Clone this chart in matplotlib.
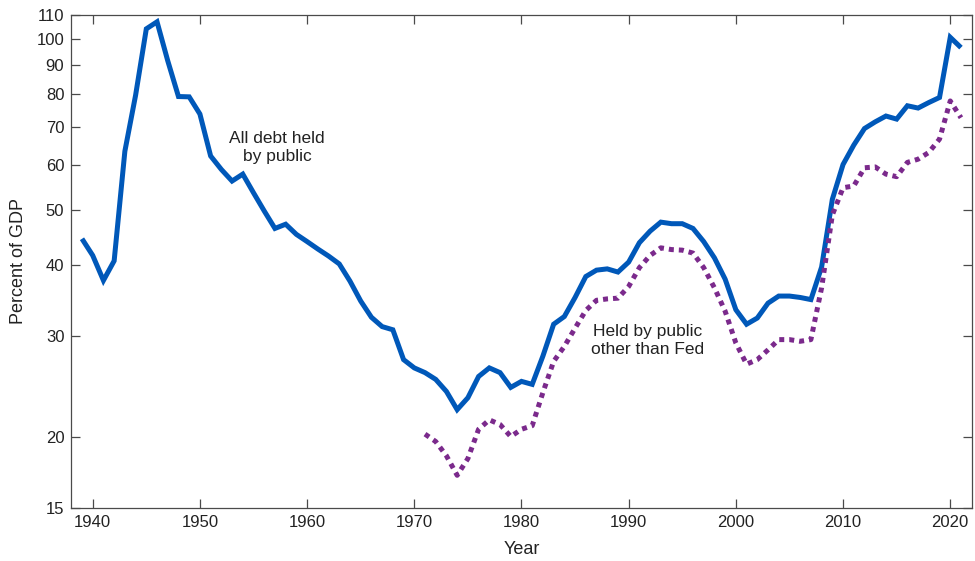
import numpy as np
import matplotlib
matplotlib.use("Agg")
import matplotlib.pyplot as plt

plt.rcParams['font.family'] = ['Liberation Sans', 'DejaVu Sans']

# debt held by the public, percent of GDP
years_all = list(range(1939, 2022))
debt_all = [
    44.5, 41.6, 37.6, 40.7, 63.4, 79.5, 104.0, 107.0, 91.4, 79.1,   # 1939-1948
    79.0, 73.7, 62.2, 58.9, 56.2, 57.8, 53.6, 49.8, 46.4, 47.2,     # 1949-1958
    45.3, 44.0, 42.7, 41.5, 40.2, 37.5, 34.6, 32.4, 31.2, 30.8,     # 1959-1968
    27.3, 26.4, 25.9, 25.2, 24.0, 22.3, 23.4, 25.5, 26.4, 25.9,     # 1969-1978
    24.4, 25.0, 24.7, 27.7, 31.5, 32.5, 35.1, 38.2, 39.2, 39.4,     # 1979-1988
    38.9, 40.5, 43.8, 45.9, 47.6, 47.3, 47.3, 46.4, 44.0, 41.2,     # 1989-1998
    37.8, 33.4, 31.5, 32.3, 34.3, 35.3, 35.3, 35.1, 34.8, 39.7,     # 1999-2008
    52.2, 60.1, 65.0, 69.5, 71.4, 73.1, 72.2, 76.2, 75.5, 77.2,     # 2009-2018
    78.8, 100.5, 96.4,                                              # 2019-2021
]

# held by the public excluding Federal Reserve holdings
years_ex_fed = list(range(1971, 2022))
debt_ex_fed = [
    20.2, 19.6, 18.5, 17.1, 18.3, 20.6, 21.4, 21.0, 20.0, 20.6,     # 1971-1980
    20.9, 23.9, 27.1, 28.8, 31.0, 33.3, 34.7, 34.9, 35.0, 36.7,     # 1981-1990
    39.6, 41.6, 42.9, 42.6, 42.5, 42.0, 39.6, 36.5, 33.2, 29.2,     # 1991-2000
    26.8, 27.3, 28.4, 29.6, 29.6, 29.4, 29.6, 36.5, 49.0, 54.7,     # 2001-2010
    55.1, 59.3, 59.5, 57.8, 57.2, 60.6, 61.4, 63.1, 66.6, 77.7,     # 2011-2020
    72.6,                                                           # 2021
]

x_ticks = list(range(1940, 2021, 10))
y_ticks = [15, 20, 30, 40, 50, 60, 70, 80, 90, 100, 110]

BLUE = "#0058B9"
PURPLE = "#7B2A8C"
AXIS_GRAY = "#4a4a4a"
TEXT = "#222222"


def style_axes(ax):
    ax.set_yscale("log")
    ax.set_xlim(1938, 2022)
    ax.set_ylim(15, 110)
    ax.set_xticks(x_ticks)
    ax.set_xticklabels([str(t) for t in x_ticks])
    ax.set_yticks(y_ticks)
    ax.set_yticklabels([str(t) for t in y_ticks])
    ax.minorticks_off()
    ax.tick_params(direction="in", length=6.3, width=0.9, color=AXIS_GRAY,
                   top=True, right=True, labelsize=12, labelcolor=TEXT, pad=5)
    for spine in ax.spines.values():
        spine.set_color(AXIS_GRAY)
        spine.set_linewidth(0.9)


fig = plt.figure(figsize=(9.75, 5.61), dpi=100)
ax = fig.add_axes([0.0731, 0.095, 0.9235, 0.8783])

ax.plot(years_all, debt_all, color=BLUE, lw=3.6, solid_joinstyle="miter",
        solid_capstyle="butt")
ax.plot(years_ex_fed, debt_ex_fed, color=PURPLE, lw=3.6,
        linestyle=(0, (1, 1)), dash_capstyle="butt")

ax.text(1957.2, 64.4, "All debt held\nby public", ha="center", va="center",
        fontsize=12.5, color=TEXT, linespacing=1.25)
ax.text(1991.8, 29.5, "Held by public\nother than Fed", ha="center", va="center",
        fontsize=12.5, color=TEXT, linespacing=1.25)

style_axes(ax)

ax.set_xlabel("Year", fontsize=13, color=TEXT)
ax.set_ylabel("Percent of GDP", fontsize=13, color=TEXT)
ax.xaxis.set_label_coords(0.5, -0.084)
ax.xaxis.label.set_va("center")
ax.yaxis.set_label_coords(-0.0586, 0.5)
ax.yaxis.label.set_va("center")

fig.savefig("out.png", dpi=100)
